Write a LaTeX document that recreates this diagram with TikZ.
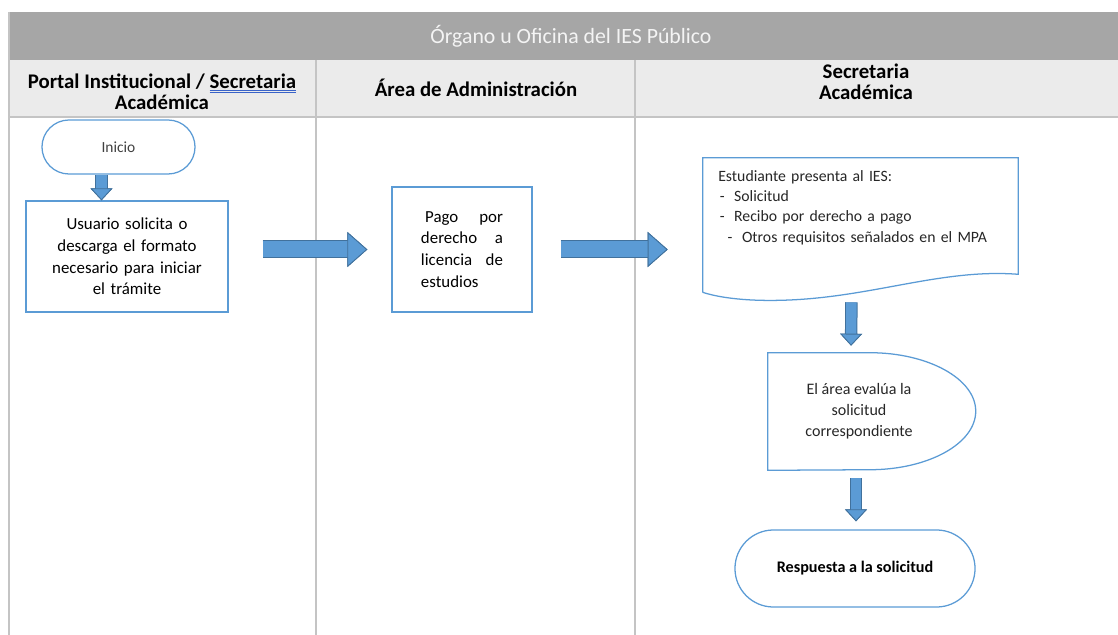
\documentclass[tikz,border=0pt]{standalone}
\usepackage{fontspec}
\setmainfont{Carlito}
\usetikzlibrary{arrows.meta, calc, shapes.misc}

\definecolor{boxblue}{HTML}{5B9BD5}
\definecolor{arrowdark}{HTML}{41719C}
\definecolor{titlegray}{HTML}{A6A6A6}
\definecolor{titletext}{HTML}{F4F4F4}
\definecolor{headgray}{HTML}{EBEBEB}
\definecolor{laneline}{HTML}{C4C4C4}
\definecolor{spellblue}{HTML}{3A63C8}

\newsavebox\spellbox
\newcommand{\spellmark}[1]{\sbox\spellbox{#1}%
  \rlap{\color{spellblue}\rule[-1.8pt]{\wd\spellbox}{0.55pt}}%
  \rlap{\color{spellblue}\rule[-3pt]{\wd\spellbox}{0.55pt}}#1}

\begin{document}
\begin{tikzpicture}[
    x = 0.025cm, y = 0.025cm,
    flowbox/.style = {draw = boxblue,
      line width = 0.9pt,
      inner sep = 0pt},
    terminal/.style = {flowbox, rounded rectangle},
    flowline/.style = {draw = boxblue, line width = 0.9pt},
    lanehead/.style = {font = \bfseries\fontsize{14.8}{15}\selectfont,
      align = center},
    bodytext/.style = {font = \fontsize{12}{15.5}\selectfont},
    smalltext/.style = {font = \fontsize{11.4}{15}\selectfont},
    lane/.style = {laneline, line width = 0.04cm},
    rightarrow/.style = {draw = boxblue, line width = 0.4cm,
      preaction = {draw = arrowdark, line width = 0.45cm},
      -{Triangle[width = 0.875cm, length = 0.5cm, line width = 0.6pt,
        color = arrowdark, fill = boxblue]}},
    downarrow/.style = {draw = boxblue, line width = 0.26cm,
      preaction = {draw = arrowdark, line width = 0.31cm},
      -{Triangle[width = 0.55cm, length = 0.3cm, line width = 0.6pt,
        color = arrowdark, fill = boxblue]}},
    ]

    \useasboundingbox (0, 0) rectangle (1118, -635);

    % swimlane frame
    \fill [titlegray] (9, -12) rectangle (1118, -60);
    \fill [headgray] (9, -60) rectangle (1118, -116);
    \draw [lane] (9, -117) -- (1118, -117);
    \draw [lane] (9, -12) -- (9, -635);
    \draw [lane] (316, -60) -- (316, -635);
    \draw [lane] (635, -60) -- (635, -635);

    \node at (571, -36)
    [font = \fontsize{15.5}{17}\selectfont, text = titletext, name = title]
    {Órgano u Oficina del IES Público};

    \node at (162, -92)
    [lanehead, name = head_portal]
    {Portal Institucional / \spellmark{Secretaria}\\Académica};
    \node at (476, -88)
    [lanehead, name = head_admin] {Área de Administración};
    \node at (866, -82)
    [lanehead, name = head_secre] {Secretaria\\Académica};

    % flow
    \node at (118.5, -147)
    [terminal, minimum width = 3.825cm, minimum height = 1.35cm,
    font = \fontsize{11}{13}\selectfont, text = black!75, name = inicio] {Inicio};

    \node at (127, -256.5)
    [flowbox, bodytext, minimum width = 5.05cm, minimum height = 2.775cm,
    text width = 4.4cm, align = center, name = usuario]
    {Usuario solicita o\\descarga el formato\\necesario para iniciar\\el trámite};

    \node at (462, -249.5)
    [flowbox, bodytext, minimum width = 3.5cm, minimum height = 3.125cm,
    text width = 2.05cm, align = left, name = pago]
    {\hspace{0.25em}Pago\hfill por\hspace{0.2em}\\derecho\hfill a\\licencia\hfill de\\estudios};

    \node at (860.5, -225)
    [minimum width = 7.875cm, minimum height = 3.35cm, name = doc] {};
    \draw [flowline] (doc.south west) -- (doc.north west)
    -- (doc.north east) -- ($(doc.south east) + (0, 18)$)
    .. controls ($(doc.south east) + (-78, 24)$) and ($(doc.south) + (10, -6)$)
    .. ($(doc.south) + (-80, -8)$)
    .. controls ($(doc.south west) + (37, -9)$) and ($(doc.south west) + (12, -4)$)
    .. (doc.south west);
    \node at (718, -170)
    [anchor = north west, inner sep = 0pt, text width = 7cm, align = left,
    font = \fontsize{11.2}{14.5}\selectfont, text = black!85, name = doclist]
    {Estudiante presenta al IES:\\
      \hspace{0.1em}-\hspace{0.6em}Solicitud\\
      \hspace{0.1em}-\hspace{0.6em}Recibo por derecho a pago\\
      \hspace{0.6em}-\hspace{0.6em}Otros requisitos señalados en el MPA};

    \node at (859, -411.5)
    [inner sep = 0pt, minimum width = 4.55cm, minimum height = 2.925cm,
    smalltext, align = center, text = black!85, name = evalua]
    {El área evalúa la\\solicitud\\correspondiente};
    \draw [flowline] (evalua.south west) -- (evalua.north west)
    -- ($(evalua.north west) + (102, 0)$)
    arc [start angle = 90, end angle = -90,
      x radius = 2.65cm, y radius = 1.4625cm]
    -- cycle;

    \node at (855, -568.5)
    [terminal, minimum width = 6cm, minimum height = 1.925cm,
    font = \bfseries\fontsize{11.5}{13}\selectfont, name = respuesta]
    {Respuesta a la solicitud};

    % connectors
    \draw [downarrow] ([xshift = -0.425cm]inicio.south)
    to ([xshift = -0.425cm]inicio.south |- usuario.north);

    \draw [rightarrow, shorten < = 0.85cm, shorten > = 0.6cm]
    (usuario.east |- pago.west) to (pago.west);

    \draw [rightarrow, shorten < = 0.7cm, shorten > = 0.875cm]
    (pago.east) to (pago.east -| doc.west);

    \draw [downarrow, shorten < = 0.25cm, shorten > = 0.175cm]
    ([xshift = -0.225cm]doc.south) to ([xshift = -0.2cm]evalua.north);

    \draw [downarrow, shorten < = 0.2cm, shorten > = 0.2cm]
    ([xshift = -0.075cm]evalua.south) to ([xshift = -0.075cm]evalua.south |- respuesta.north);
  \end{tikzpicture}
\end{document}
